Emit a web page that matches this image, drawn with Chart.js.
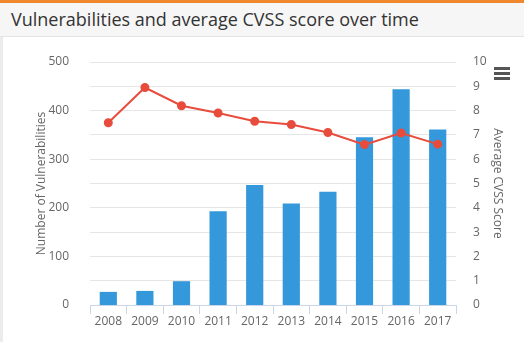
<!DOCTYPE html>
<html>
<head>
<meta charset="utf-8">
<script src="https://cdn.jsdelivr.net/npm/chart.js@4"></script>
<style>
  html, body { margin: 0; padding: 0; background: #fff; }
  body { width: 524px; height: 342px; position: relative; overflow: hidden; font-family: "Open Sans", sans-serif; }
  .edge { position: absolute; left: 0; top: 0; width: 3px; height: 342px; background: #ececec; }
  .header {
    position: absolute; left: 0; top: 0; width: 524px; height: 33px;
    border-top: 3px solid #f0892e; border-bottom: 1px solid #e4e4e4;
    background: #f6f6f6; box-sizing: content-box;
  }
  .header h1 {
    margin: 0; padding-left: 11px; font-size: 18px; font-weight: 400; color: #333;
    line-height: 33px; white-space: nowrap;
  }
  .chart-box { position: absolute; left: 0; top: 37px; width: 524px; height: 305px; }
  .menu { position: absolute; left: 494px; top: 67px; width: 16px; }
  .menu span { display: block; height: 2.5px; background: #555; margin-bottom: 2.5px; }
</style>
</head>
<body>
<div class="edge"></div>
<div class="header"><h1>Vulnerabilities and average CVSS score over time</h1></div>
<div class="chart-box"><canvas id="cvssChart"></canvas></div>
<div class="menu"><span></span><span></span><span></span></div>
<script>
const years = ["2008", "2009", "2010", "2011", "2012", "2013", "2014", "2015", "2016", "2017"];
const vulnerabilities = [27, 29, 49, 193, 247, 209, 233, 345, 444, 361];
const avgCvss = [7.5, 8.95, 8.2, 7.9, 7.56, 7.43, 7.1, 6.6, 7.08, 6.62];

const tickFont = { family: "Open Sans", size: 12 };
const titleFont = { family: "Open Sans", size: 12 };

const ctx = document.getElementById("cvssChart").getContext("2d");

new Chart(ctx, {
  type: "bar",
  data: {
    labels: years,
    datasets: [
      {
        type: "line",
        label: "Average CVSS Score",
        data: avgCvss,
        yAxisID: "y2",
        borderColor: "#e74c3c",
        backgroundColor: "#e74c3c",
        borderWidth: 2,
        pointRadius: 3.5,
        pointBackgroundColor: "#e74c3c",
        tension: 0,
        order: 0,
      },
      {
        label: "Number of Vulnerabilities",
        data: vulnerabilities,
        yAxisID: "y",
        backgroundColor: "#3498db",
        categoryPercentage: 1,
        barPercentage: 0.47,
        order: 1,
      },
    ],
  },
  options: {
    responsive: true,
    maintainAspectRatio: false,
    animation: false,
    layout: { padding: { top: 25, left: 0, right: 0, bottom: 0 } },
    plugins: { legend: { display: false }, tooltip: { enabled: false } },
    scales: {
      x: {
        grid: { drawOnChartArea: false, drawTicks: true, tickLength: 9, color: "#ccd6eb" },
        border: { color: "#ccd6eb" },
        ticks: { font: { family: "Open Sans", size: 12 }, color: "#666", padding: 0 },
        afterFit: (scale) => { scale.height = 37; },
      },
      y: {
        position: "left",
        min: 0,
        max: 500,
        ticks: { stepSize: 100, font: tickFont, color: "#666", padding: 13 },
        grid: { display: false },
        border: { display: false },
        title: { display: true, text: "Number of Vulnerabilities", font: titleFont, color: "#666", padding: { top: 34, bottom: 4 } },
        afterFit: (scale) => { scale.width = 90; },
      },
      y2: {
        position: "right",
        min: 0,
        max: 10,
        ticks: { stepSize: 1, font: tickFont, color: "#666", padding: 17 },
        grid: { color: "#e6e6e6", drawTicks: false },
        border: { display: false },
        title: { display: true, text: "Average CVSS Score", font: titleFont, color: "#666", padding: { top: 19, bottom: 4 } },
        afterFit: (scale) => { scale.width = 68; },
      },
    },
  },
});
</script>
</body>
</html>
